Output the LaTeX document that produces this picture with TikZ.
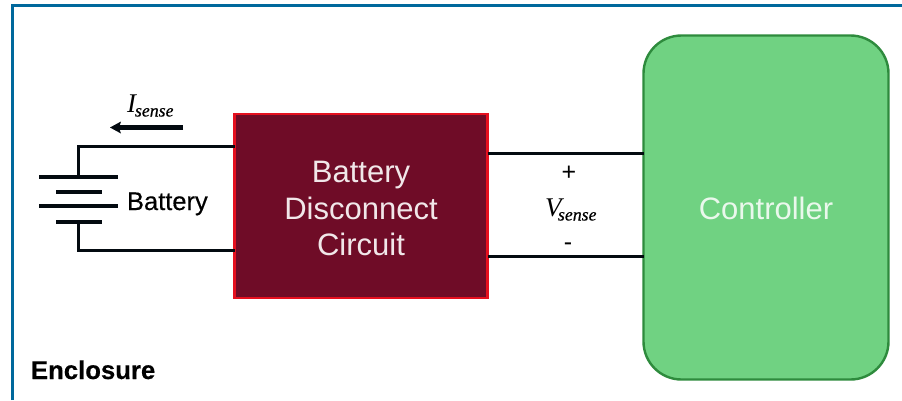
\documentclass[tikz,border=0pt]{standalone}
\usepackage{fontspec}
\setmainfont{Liberation Sans}
\newfontfamily\timesf{Liberation Serif}
\newcommand{\sensesub}[2]{{\timesf\itshape\fontsize{27}{30}\selectfont #1\kern #2\raisebox{-4.5pt}{\fontsize{17.8}{20}\selectfont\addfontfeature{FakeBold=0.5}sense}}}
\definecolor{frameblue}{HTML}{00689C}
\definecolor{discfill}{HTML}{6F0C27}
\definecolor{discline}{HTML}{E5101F}
\definecolor{ctrlfill}{HTML}{70D282}
\definecolor{ctrlline}{HTML}{2E8B3D}
\definecolor{wirecol}{HTML}{030A10}
\tikzset{
  wire/.style={draw=wirecol,line width=3pt,line join=miter},
  plate/.style={draw=wirecol,line width=3.6pt},
  lbl/.style={inner sep=0pt,outer sep=0pt,anchor=base west,text=black},
  blocktext/.style={inner sep=0pt,outer sep=0pt,align=center,font=\fontsize{31}{36.5}\selectfont},
}
\begin{document}
\begin{tikzpicture}[x=1pt,y=-1pt]
\useasboundingbox (0,0) rectangle (902,400);
\fill[white] (0,0) rectangle (902,400);
% enclosure frame
\draw[frameblue,line width=3pt] (12,400) -- (12,5.5) -- (902,5.5);
% blocks
\node[draw=discline,fill=discfill,line width=2.8pt,minimum width=253pt,minimum height=184pt,inner sep=0pt,outer sep=0pt] (disc) at (361,206) {};
\node[blocktext,text=white!90!discfill] (disctext) at (361,208.5) {Battery\\Disconnect\\Circuit};
\node[draw=ctrlline,fill=ctrlfill,line width=2.4pt,rounded corners=38pt,minimum width=245pt,minimum height=344pt,inner sep=0pt,outer sep=0pt] (ctrl) at (766,207.5) {};
\node[blocktext,text=white!85!ctrlfill] (ctrltext) at (766,208) {Controller};
% battery plates
\coordinate (p1l) at (39,177); \coordinate (p1r) at (118,177);
\coordinate (p2l) at (56,192); \coordinate (p2r) at (102,192);
\coordinate (p3l) at (39,206); \coordinate (p3r) at (118,206);
\coordinate (p4l) at (56,222); \coordinate (p4r) at (102,222);
\draw[plate] (p1l) -- (p1r);
\draw[plate] (p2l) -- (p2r);
\draw[plate] (p3l) -- (p3r);
\draw[plate] (p4l) -- (p4r);
% wires
\coordinate (bt) at (78,177); \coordinate (bb) at (78,222);
\coordinate (dt) at (disc.west |- 0,146.5); \coordinate (db) at (disc.west |- 0,250);
\draw[wire] (bt) -- (78,146.5) -- (dt);
\draw[wire] (bb) -- (78,250) -- (db);
\coordinate (d1) at (disc.east |- 0,153.5); \coordinate (c1) at (ctrl.west |- 0,153.5);
\coordinate (d2) at (disc.east |- 0,256.5); \coordinate (c2) at (ctrl.west |- 0,256.5);
\draw[wire] (d1) -- (c1);
\draw[wire] (d2) -- (c2);
% current arrow
\coordinate (as) at (183,127.5); \coordinate (ae) at (110,127.5);
\draw[wirecol,line width=4.6pt] (as) -- (119,127.5);
\fill[wirecol] (ae) -- (121,121.5) -- (119,127.5) -- (121,133.5) -- cycle;
% labels
\node[lbl] (isense) at (127,112) {\sensesub{I}{-1pt}};
\node[lbl] (vsense) at (545,216) {\sensesub{V}{-3.5pt}};
\node[lbl,font=\fontsize{25.5}{28}\selectfont\addfontfeature{FakeBold=0.4}] (batt) at (127,210) {Battery};
\node[lbl,font=\bfseries\fontsize{25.7}{28}\selectfont\addfontfeature{FakeBold=0.4}] (encl) at (31,379) {Enclosure};
\node[inner sep=0pt,font=\fontsize{25}{28}\selectfont] (plus) at (569,173) {+};
\node[inner sep=0pt,font=\fontsize{25}{28}\selectfont] (minus) at (568,247) {-};
\end{tikzpicture}
\end{document}
